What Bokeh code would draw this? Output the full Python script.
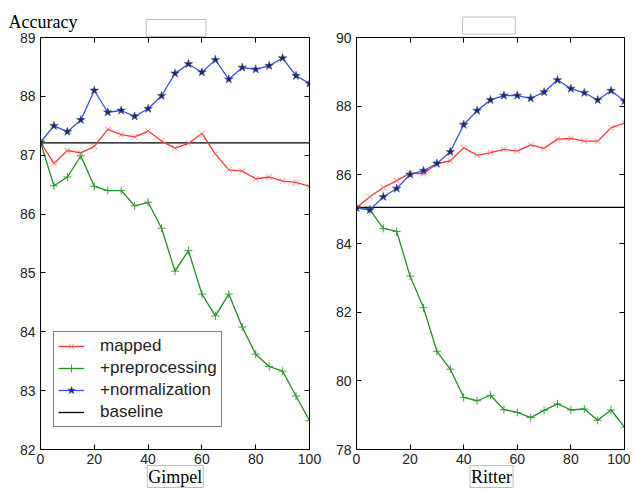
from bokeh.plotting import figure
from bokeh.layouts import row
from bokeh.models import (Range1d, LinearAxis, FixedTicker, Legend, LegendItem,
                          Label, CustomJSTickFormatter)
from bokeh.embed import file_html
from bokeh.resources import INLINE

# ---------------- data ----------------
x_values = [0, 5, 10, 15, 20, 25, 30, 35, 40, 45, 50, 55, 60, 65, 70, 75, 80, 85, 90, 95, 100]

gimpel_mapped = [87.22, 86.86, 87.08, 87.04, 87.15, 87.44, 87.35, 87.31, 87.41, 87.24, 87.12,
                 87.20, 87.37, 87.02, 86.75, 86.73, 86.60, 86.63, 86.56, 86.54, 86.47]
gimpel_preprocessing = [87.22, 86.48, 86.63, 86.99, 86.47, 86.40, 86.40, 86.14, 86.20, 85.76, 85.03,
                        85.38, 84.64, 84.27, 84.64, 84.08, 83.62, 83.41, 83.33, 82.91, 82.49]
gimpel_normalization = [87.22, 87.50, 87.40, 87.60, 88.10, 87.73, 87.76, 87.66, 87.79, 88.01, 88.39,
                        88.55, 88.41, 88.62, 88.29, 88.49, 88.46, 88.52, 88.65, 88.35, 88.22]
gimpel_baseline = 87.21

ritter_mapped = [85.04, 85.36, 85.63, 85.83, 86.05, 86.03, 86.32, 86.41, 86.79, 86.57, 86.65,
                 86.74, 86.69, 86.87, 86.77, 87.04, 87.06, 86.98, 86.98, 87.37, 87.51]
ritter_preprocessing = [85.04, 84.98, 84.44, 84.35, 83.05, 82.13, 80.86, 80.34, 79.52, 79.42, 79.58,
                        79.16, 79.08, 78.93, 79.14, 79.33, 79.15, 79.18, 78.85, 79.15, 78.65]
ritter_normalization = [85.04, 84.98, 85.36, 85.60, 86.01, 86.12, 86.33, 86.67, 87.46, 87.87, 88.18,
                        88.31, 88.31, 88.23, 88.41, 88.76, 88.51, 88.39, 88.18, 88.45, 88.15]
ritter_baseline = 85.05

x_ticks = [0, 20, 40, 60, 80, 100]
gimpel_y_ticks = [82, 83, 84, 85, 86, 87, 88, 89]
ritter_y_ticks = [78, 80, 82, 84, 86, 88, 90]

series_names = ["mapped", "+preprocessing", "+normalization", "baseline"]

# ---------------- style ----------------
RED_LINE = "#ff3535"
RED_MARK = "#ff6a6a"
GREEN_LINE = "#1f8f1f"
GREEN_MARK = "#2a9a2a"
BLUE_LINE = "#3a4ff5"
BLUE_FILL = "#0e2596"
TICK_FONT = "Liberation Sans"


def style_axis(ax, ticks, labels=True):
    ax.ticker = FixedTicker(ticks=ticks)
    ax.major_tick_in = 5
    ax.major_tick_out = 0
    ax.minor_tick_in = 0
    ax.minor_tick_out = 0
    ax.axis_line_color = "black"
    ax.major_tick_line_color = "black"
    ax.major_label_text_font = TICK_FONT
    ax.major_label_text_font_size = "14px"
    ax.major_label_text_color = "#222222"
    if not labels:
        ax.major_label_text_font_size = "0px"
        ax.major_label_standoff = 0
        ax.formatter = CustomJSTickFormatter(code="return ''")


def make_panel(width, border_left, border_right, y_lo, y_hi, y_ticks,
               mapped, pre, norm, base, name, name_x, box_x, box_n, box_dy, with_legend):
    p = figure(width=width, height=489, output_backend="svg", toolbar_location=None,
               x_range=Range1d(0, 100), y_range=Range1d(y_lo, y_hi),
               min_border_left=border_left, min_border_right=border_right,
               min_border_top=37, min_border_bottom=40)
    p.outline_line_color = "black"
    p.outline_line_width = 1
    p.grid.visible = False
    p.background_fill_color = "white"
    p.border_fill_color = "white"

    style_axis(p.xaxis[0], x_ticks)
    style_axis(p.yaxis[0], y_ticks)
    p.xaxis[0].major_label_standoff = 4
    p.yaxis[0].major_label_standoff = 5
    top = LinearAxis()
    style_axis(top, x_ticks, labels=False)
    p.add_layout(top, "above")
    right = LinearAxis()
    style_axis(right, y_ticks, labels=False)
    p.add_layout(right, "right")

    base_line = p.line([x_values[0], x_values[-1]], [base, base], line_color="black", line_width=1.3)

    r_line = p.line(x_values, mapped, line_color=RED_LINE, line_width=1.3)
    r_mark = p.scatter(x_values, mapped, marker="x", size=8, line_color=RED_MARK,
                       line_alpha=0.8, line_width=1)
    g_line = p.line(x_values, pre, line_color=GREEN_LINE, line_width=1.3)
    g_mark = p.scatter(x_values, pre, marker="cross", size=8, line_color=GREEN_MARK,
                       line_alpha=0.9, line_width=1)
    b_line = p.line(x_values, norm, line_color=BLUE_LINE, line_width=1.3)
    b_mark = p.scatter(x_values, norm, marker="star", size=9, fill_color=BLUE_FILL,
                       line_color="#555555", line_width=0.6)

    if with_legend:
        items = [
            LegendItem(label=series_names[0], renderers=[r_line, r_mark]),
            LegendItem(label=series_names[1], renderers=[g_line, g_mark]),
            LegendItem(label=series_names[2], renderers=[b_line, b_mark]),
            LegendItem(label=series_names[3], renderers=[base_line]),
        ]
        legend = Legend(items=items, location=(13, 22), border_line_color="black",
                        border_line_width=1, background_fill_color="white",
                        background_fill_alpha=1, padding=4, spacing=2,
                        label_height=20, glyph_height=20, glyph_width=26,
                        label_standoff=16, margin=0,
                        label_text_font=TICK_FONT, label_text_font_size="17px",
                        label_text_color="#222222")
        p.add_layout(legend, "center")

    # empty header box above the frame
    p.add_layout(Label(x=box_x, y=y_hi, y_offset=box_dy, text="\u00a0" * box_n,
                       text_align="center", text_baseline="middle",
                       text_font=TICK_FONT, text_font_size="13px",
                       border_line_color="#bdbdbd", border_line_width=1,
                       background_fill_color="white", padding=1), "above")

    # dataset name below the axis, in a box
    p.add_layout(Label(x=name_x, y=y_lo, y_offset=-27, text=name, text_align="center",
                       text_baseline="alphabetic", text_font="Liberation Serif",
                       text_font_size="18px", text_color="black",
                       border_line_color="#bdbdbd", border_line_width=1,
                       background_fill_color="white", padding=1), "below")
    return p


p1 = make_panel(326, 40, 17, 82, 89, gimpel_y_ticks,
                gimpel_mapped, gimpel_preprocessing, gimpel_normalization, gimpel_baseline,
                "Gimpel", 50.1, 50.4, 16, 9.5, True)
p1.add_layout(Label(x=0, y=89, x_offset=-32, y_offset=16, text="Accuracy",
                    text_align="left", text_baseline="alphabetic",
                    text_font="Liberation Serif", text_font_size="18px", text_color="black"),
              "above")

p2 = make_panel(304, 30, 6, 78, 90, ritter_y_ticks,
                ritter_mapped, ritter_preprocessing, ritter_normalization, ritter_baseline,
                "Ritter", 50.4, 49.4, 14, 12, False)

layout = row(p1, p2)
open("out.html", "w").write(file_html(layout, INLINE))
